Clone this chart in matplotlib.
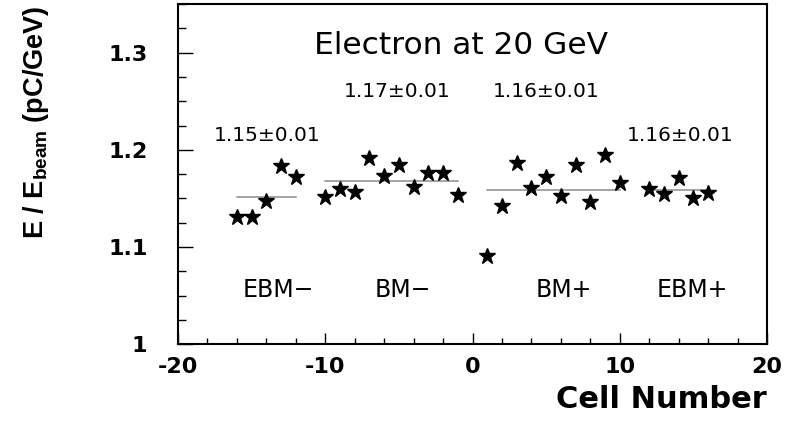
import matplotlib
matplotlib.use("Agg")
import matplotlib.pyplot as plt
from matplotlib.ticker import MultipleLocator

plt.rcParams["axes.unicode_minus"] = False
plt.rcParams["mathtext.fontset"] = "custom"
plt.rcParams["mathtext.rm"] = "Liberation Sans:bold"
plt.rcParams["mathtext.bf"] = "Liberation Sans:bold"

# cell number / response, per calorimeter region
ebm_minus_x = [-16, -15, -14, -13, -12]
ebm_minus_y = [1.131, 1.131, 1.147, 1.183, 1.172]
bm_minus_x = [-10, -9, -8, -7, -6, -5, -4, -3, -2, -1]
bm_minus_y = [1.152, 1.160, 1.157, 1.192, 1.173, 1.184, 1.162, 1.176, 1.176, 1.154]
bm_plus_x = [1, 2, 3, 4, 5, 6, 7, 8, 9, 10]
bm_plus_y = [1.091, 1.142, 1.187, 1.161, 1.172, 1.153, 1.184, 1.146, 1.195, 1.166]
ebm_plus_x = [12, 13, 14, 15, 16]
ebm_plus_y = [1.160, 1.155, 1.171, 1.151, 1.156]

# fitted mean per region: (x_start, x_end, mean)
region_means = [(-16, -12, 1.152), (-10, -1, 1.168), (1, 10, 1.159), (12, 16, 1.159)]
region_names = ["EBM\u2212", "BM\u2212", "BM+", "EBM+"]
mean_labels = ["1.15\u00b10.01", "1.17\u00b10.01", "1.16\u00b10.01", "1.16\u00b10.01"]

fig = plt.figure(figsize=(7.87, 4.23), dpi=100)
ax = fig.add_axes([0.2262, 0.186, 0.7484, 0.8045])

for x0, x1, m in region_means:
    ax.plot([x0, x1], [m, m], color="#8c8c8c", lw=1.1, zorder=1)

for xs, ys in [(ebm_minus_x, ebm_minus_y), (bm_minus_x, bm_minus_y),
               (bm_plus_x, bm_plus_y), (ebm_plus_x, ebm_plus_y)]:
    ax.plot(xs, ys, ls="none", marker="*", ms=12, color="black", zorder=2)

ax.set_xlim(-20, 20)
ax.set_ylim(1.0, 1.35)
ax.xaxis.set_major_locator(MultipleLocator(10))
ax.xaxis.set_minor_locator(MultipleLocator(2))
ax.yaxis.set_minor_locator(MultipleLocator(0.025))
ax.set_yticks([1.0, 1.1, 1.2, 1.3])
ax.set_yticklabels(["1", "1.1", "1.2", "1.3"])

for s in ax.spines.values():
    s.set_linewidth(1.5)

tick_font = dict(family="DejaVu Sans", weight="bold", size=16)
ax.tick_params(axis="both", which="both", direction="in", top=False, right=False)
ax.tick_params(axis="y", which="major", length=11, width=1.0, pad=22)
ax.tick_params(axis="y", which="minor", length=5.5, width=1.0)
ax.tick_params(axis="x", which="major", length=8, width=1.0, pad=9)
ax.tick_params(axis="x", which="minor", length=4.5, width=1.0)
for lab in ax.get_xticklabels() + ax.get_yticklabels():
    lab.set_fontproperties(tick_font)

ax.set_xlabel("Cell Number", loc="right", family="DejaVu Sans",
              weight="bold", size=22, labelpad=6)
ax.set_ylabel(r"E / E$_{\mathbf{beam}}$ (pC/GeV)", loc="top",
              family="Liberation Sans", weight="bold", size=19.5)
ax.yaxis.set_label_coords(-0.215, 0.995)

ax.text(-0.8, 1.3076, "Electron at 20 GeV", ha="center", va="center",
        family="DejaVu Sans", size=22.5)

# mean value annotations
mean_pos = [(-13.96, 1.215), (-5.1, 1.2596), (4.98, 1.2596), (14.1, 1.215)]
for (tx, ty), t in zip(mean_pos, mean_labels):
    ax.text(tx, ty, t, ha="center", va="center", family="DejaVu Sans", size=14.5)

name_x = [-13.2, -4.76, 6.23, 14.9]
for tx, t in zip(name_x, region_names):
    ax.text(tx, 1.0558, t, ha="center", va="center", family="DejaVu Sans", size=17)

fig.savefig("out.png", dpi=100)
